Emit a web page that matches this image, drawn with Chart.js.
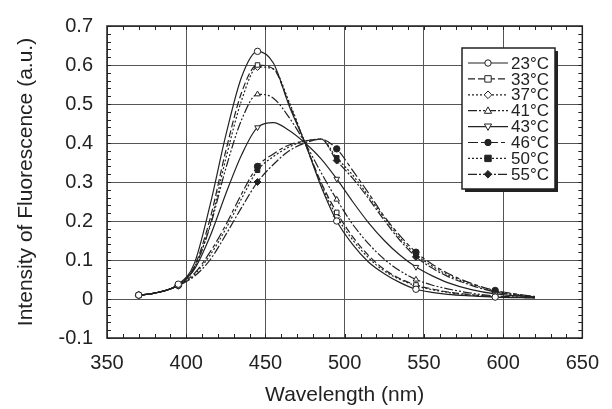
<!DOCTYPE html>
<html>
<head>
<meta charset="utf-8">
<script src="https://cdn.jsdelivr.net/npm/chart.js@4"></script>
<style>
  html, body { margin: 0; padding: 0; background: #fff; }
  #wrap { width: 612px; height: 409px; }
</style>
</head>
<body>
<div id="wrap"><canvas id="grafico" width="612" height="409"></canvas></div>
<script>
// Dados
const comprimentos = [370, 380, 395, 405, 415, 425, 435, 445, 455, 465, 475, 485, 495, 505, 515, 525, 535, 545, 555, 565, 580, 595, 620];
const marcadoresEm = [370, 395, 445, 495, 545, 595];
const temperaturas = ["23°C", "33°C", "37°C", "41°C", "43°C", "46°C", "50°C", "55°C"];

const t23 = [0.010, 0.015, 0.038, 0.090, 0.240, 0.420, 0.570, 0.635, 0.605, 0.495, 0.400, 0.290, 0.200, 0.140, 0.095, 0.065, 0.042, 0.025, 0.017, 0.012, 0.008, 0.005, 0.003];
const t33 = [0.010, 0.015, 0.037, 0.082, 0.205, 0.380, 0.530, 0.600, 0.590, 0.500, 0.400, 0.300, 0.222, 0.160, 0.112, 0.076, 0.052, 0.036, 0.026, 0.018, 0.011, 0.006, 0.003];
const t37 = [0.010, 0.015, 0.036, 0.078, 0.190, 0.360, 0.510, 0.595, 0.590, 0.505, 0.400, 0.295, 0.212, 0.152, 0.106, 0.072, 0.050, 0.034, 0.024, 0.017, 0.010, 0.006, 0.003];
const t41 = [0.010, 0.015, 0.036, 0.080, 0.185, 0.335, 0.460, 0.525, 0.515, 0.465, 0.400, 0.325, 0.255, 0.192, 0.142, 0.102, 0.072, 0.050, 0.036, 0.026, 0.015, 0.008, 0.004];
const t43 = [0.010, 0.015, 0.036, 0.075, 0.160, 0.270, 0.370, 0.440, 0.452, 0.432, 0.400, 0.360, 0.308, 0.250, 0.196, 0.150, 0.112, 0.082, 0.060, 0.042, 0.024, 0.013, 0.005];
const t46 = [0.010, 0.015, 0.035, 0.065, 0.120, 0.190, 0.270, 0.340, 0.372, 0.395, 0.405, 0.410, 0.385, 0.330, 0.272, 0.212, 0.162, 0.120, 0.090, 0.066, 0.040, 0.022, 0.006];
const t50 = [0.010, 0.015, 0.035, 0.062, 0.112, 0.180, 0.258, 0.330, 0.365, 0.390, 0.405, 0.410, 0.362, 0.318, 0.264, 0.208, 0.156, 0.114, 0.085, 0.062, 0.038, 0.020, 0.006];
const t55 = [0.010, 0.015, 0.034, 0.058, 0.100, 0.165, 0.235, 0.300, 0.345, 0.380, 0.400, 0.410, 0.355, 0.310, 0.258, 0.202, 0.150, 0.108, 0.080, 0.058, 0.035, 0.018, 0.005];

const series = [t23, t33, t37, t41, t43, t46, t50, t55];

// Estilos de cada curva
const estilos = [
  { dash: [], ponto: "circle", cheio: false, rot: 0 },
  { dash: [7, 3], ponto: "rect", cheio: false, rot: 0 },
  { dash: [2, 2], ponto: "rectRot", cheio: false, rot: 0 },
  { dash: [9, 2, 2, 2, 2, 2], ponto: "triangle", cheio: false, rot: 0 },
  { dash: [], ponto: "triangle", cheio: false, rot: 180 },
  { dash: [10, 3, 4, 3], ponto: "circle", cheio: true, rot: 0 },
  { dash: [2, 2], ponto: "rect", cheio: true, rot: 0 },
  { dash: [9, 2, 2, 2], ponto: "rectRot", cheio: true, rot: 0 }
];

const COR = "#222";
const FONTE = "'Liberation Sans', Arial, sans-serif";

const datasets = series.map((valores, i) => {
  const e = estilos[i];
  return {
    label: temperaturas[i],
    data: comprimentos.map((x, k) => ({ x: x, y: valores[k] })),
    borderColor: COR,
    borderWidth: 1.2,
    borderDash: e.dash,
    pointStyle: e.ponto,
    pointRotation: e.rot,
    pointRadius: comprimentos.map(x => marcadoresEm.includes(x) ? (e.ponto === "rectRot" ? 3.5 : 3.2) : 0),
    pointBorderColor: COR,
    pointBackgroundColor: e.cheio ? COR : "#fff",
    pointBorderWidth: 1,
    cubicInterpolationMode: "monotone",
    fill: false
  };
});

// Marcas menores para dentro nos quatro lados
const marcasMenores = {
  id: "marcasMenores",
  afterDraw(chart) {
    const { ctx, chartArea: a, scales } = chart;
    ctx.save();
    ctx.strokeStyle = COR;
    ctx.lineWidth = 1;
    ctx.beginPath();
    for (let v = 350; v <= 650; v += 10) {
      const px = Math.round(scales.x.getPixelForValue(v)) + 0.5;
      ctx.moveTo(px, a.bottom); ctx.lineTo(px, a.bottom - 4);
      ctx.moveTo(px, a.top); ctx.lineTo(px, a.top + 4);
    }
    for (let k = -5; k <= 35; k++) {
      const py = Math.round(scales.y.getPixelForValue(k * 0.02)) + 0.5;
      ctx.moveTo(a.left, py); ctx.lineTo(a.left + 4, py);
      ctx.moveTo(a.right, py); ctx.lineTo(a.right - 4, py);
    }
    ctx.stroke();
    ctx.lineWidth = 1.5;
    ctx.strokeRect(a.left, a.top, a.right - a.left, a.bottom - a.top);
    ctx.restore();
  }
};

function desenhaMarcador(ctx, e, x, y) {
  ctx.save();
  ctx.setLineDash([]);
  ctx.lineWidth = 1;
  ctx.strokeStyle = COR;
  ctx.fillStyle = e.cheio ? COR : "#fff";
  ctx.beginPath();
  const r = 3.2;
  if (e.ponto === "circle") {
    ctx.arc(x, y, r, 0, Math.PI * 2);
  } else if (e.ponto === "rect") {
    ctx.rect(x - r, y - r, 2 * r, 2 * r);
  } else if (e.ponto === "rectRot") {
    ctx.moveTo(x, y - 3.8); ctx.lineTo(x + 3.8, y); ctx.lineTo(x, y + 3.8); ctx.lineTo(x - 3.8, y); ctx.closePath();
  } else if (e.ponto === "triangle") {
    const s = e.rot === 180 ? -1 : 1;
    ctx.moveTo(x, y - s * 3.8); ctx.lineTo(x + 3.6, y + s * 2.6); ctx.lineTo(x - 3.6, y + s * 2.6); ctx.closePath();
  }
  ctx.fill();
  ctx.stroke();
  ctx.restore();
}

// Legenda dentro do grafico
const legendaInterna = {
  id: "legendaInterna",
  afterDraw(chart) {
    const ctx = chart.ctx;
    const x0 = 462, y0 = 48, w = 93, h = 141;
    ctx.save();
    ctx.fillStyle = COR;
    ctx.fillRect(x0 + 3, y0 + 3, w, h);
    ctx.fillStyle = "#fff";
    ctx.fillRect(x0, y0, w, h);
    ctx.strokeStyle = COR;
    ctx.lineWidth = 1.5;
    ctx.strokeRect(x0, y0, w, h);
    ctx.font = "17px " + FONTE;
    ctx.textBaseline = "middle";
    temperaturas.forEach((t, i) => {
      const e = estilos[i];
      const y = 63 + i * 15.9;
      ctx.save();
      ctx.strokeStyle = COR;
      ctx.lineWidth = 1.2;
      ctx.setLineDash(e.dash);
      ctx.beginPath();
      ctx.moveTo(468, y); ctx.lineTo(508, y);
      ctx.stroke();
      ctx.restore();
      desenhaMarcador(ctx, e, 488, y);
      ctx.fillStyle = COR;
      ctx.fillText(t, 511, y + 1);
    });
    ctx.restore();
  }
};

const fundoBranco = {
  id: "fundoBranco",
  beforeDraw(chart) {
    const ctx = chart.ctx;
    ctx.save();
    ctx.fillStyle = "#fff";
    ctx.fillRect(0, 0, chart.width, chart.height);
    ctx.restore();
  }
};

new Chart(document.getElementById("grafico").getContext("2d"), {
  type: "line",
  data: { datasets: datasets },
  options: {
    responsive: false,
    animation: false,
    layout: { padding: { left: 14, right: 22, top: 19, bottom: 0 } },
    plugins: { legend: { display: false }, tooltip: { enabled: false } },
    scales: {
      x: {
        type: "linear",
        min: 350, max: 650,
        border: { display: false },
        grid: { color: "#555", lineWidth: 1, drawTicks: false },
        ticks: { stepSize: 50, padding: 13, color: COR, font: { family: FONTE, size: 20 } },
        title: { display: true, text: "Wavelength (nm)", color: COR, font: { family: FONTE, size: 21 }, padding: { top: 0, bottom: 1 } },
        afterFit(scale) { scale.height = 409 - 338; }
      },
      y: {
        min: -0.1, max: 0.7,
        border: { display: false },
        grid: { color: "#555", lineWidth: 1, drawTicks: false },
        ticks: {
          stepSize: 0.1, padding: 14, color: COR, font: { family: FONTE, size: 20 },
          callback: v => Math.abs(v) < 1e-9 ? "0" : String(+v.toFixed(1))
        },
        title: { display: true, text: "Intensity of Fluorescence (a.u.)", color: COR, font: { family: FONTE, size: 21 }, padding: { top: 0, bottom: 0 } },
        afterFit(scale) { scale.width = 107 - 14; }
      }
    }
  },
  plugins: [fundoBranco, marcasMenores, legendaInterna]
});
</script>
</body>
</html>
